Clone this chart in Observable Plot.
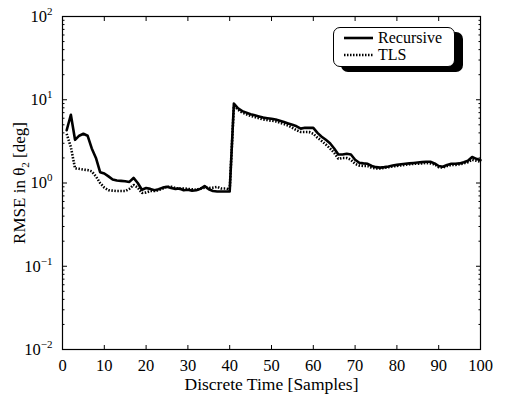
<!DOCTYPE html>
<html><head><meta charset="utf-8">
<script src="https://cdn.jsdelivr.net/npm/d3@7"></script>
<script src="https://cdn.jsdelivr.net/npm/@observablehq/plot@0.6"></script>
<style>
body{margin:0;background:#fff;}
#wrap{position:relative;width:507px;height:395px;font-family:"Liberation Serif","Times New Roman",Times,serif;}
#legend{position:absolute;left:333px;top:27px;width:120px;height:38px;border:1.5px solid #000;border-radius:7px;background:#fff;box-shadow:8px 5px 0 #000;}
#legend svg{position:absolute;left:0;top:0;}
</style></head><body><div id="wrap"></div>
<script>
const seriesNames = ["Recursive", "TLS"];
const samples = d3.range(1, 101);
const recursive = [4.3,6.6,3.3,3.7,3.9,3.7,2.6,2.0,1.35,1.3,
1.2,1.1,1.07,1.06,1.05,1.03,1.15,1.0,0.83,0.87,
0.85,0.82,0.84,0.88,0.9,0.87,0.85,0.86,0.82,0.83,
0.81,0.82,0.85,0.92,0.84,0.8,0.79,0.79,0.79,0.79,
9.0,7.9,7.3,7.0,6.7,6.5,6.3,6.1,6.0,5.9,
5.8,5.6,5.4,5.2,5.0,4.8,4.5,4.6,4.6,4.6,
4.0,3.6,3.3,3.0,2.6,2.2,2.2,2.25,2.2,1.9,
1.75,1.72,1.7,1.6,1.55,1.53,1.55,1.58,1.62,1.65,
1.68,1.7,1.72,1.74,1.76,1.78,1.8,1.8,1.72,1.6,
1.57,1.65,1.7,1.7,1.72,1.78,1.85,2.05,1.95,1.88];
const tls = [3.9,2.7,1.5,1.48,1.45,1.43,1.38,1.2,1.0,0.88,
0.82,0.81,0.8,0.8,0.8,0.85,0.95,0.88,0.76,0.77,
0.8,0.8,0.82,0.86,0.9,0.9,0.87,0.85,0.86,0.85,
0.84,0.83,0.86,0.88,0.87,0.88,0.9,0.86,0.86,0.84,
8.5,7.6,7.0,6.7,6.4,6.2,6.0,5.8,5.7,5.6,
5.5,5.3,5.1,4.9,4.6,4.3,4.1,4.1,4.1,3.9,
3.5,3.2,2.9,2.6,2.3,1.95,2.0,2.0,1.9,1.7,
1.62,1.6,1.6,1.52,1.5,1.5,1.52,1.55,1.58,1.6,
1.63,1.65,1.68,1.7,1.7,1.72,1.74,1.72,1.68,1.55,
1.53,1.6,1.65,1.65,1.68,1.72,1.78,1.9,1.85,1.8];
const xTicks = [0,10,20,30,40,50,60,70,80,90,100];
const yMajor = [0.01,0.1,1,10,100];
const yMinor = [0.01,0.1,1,10].flatMap(d => [2,3,4,5,6,7,8,9].map(k => d*k));

const recData = samples.map((s,i) => ({s, v: recursive[i]}));
const tlsData = samples.map((s,i) => ({s, v: tls[i]}));

const FONT = "'Liberation Serif', 'Times New Roman', Times, serif";
const tk = {tickFormat: () => "", label: null, stroke: "#000", strokeWidth: 1};

const plot = Plot.plot({
  width: 507, height: 395,
  marginLeft: 62, marginRight: 27, marginTop: 16, marginBottom: 46,
  style: {fontFamily: FONT, fontSize: "16px", color: "#000", background: "#fff"},
  x: {domain: [0,100]},
  y: {type: "log", domain: [0.01, 100]},
  marks: [
    Plot.axisX(xTicks, {anchor: "bottom", tickSize: 0, tickPadding: 10, fontSize: 16.5, fontFamily: FONT, label: "Discrete Time [Samples]", labelAnchor: "center", labelArrow: "none", labelOffset: 40}),
    Plot.axisY(yMajor, {anchor: "left", tickSize: 0, tickPadding: 10, fontSize: 16.5, fontFamily: FONT, tickFormat: d => "e" + Math.round(Math.log10(d)), label: "RMSE in θ2 [deg]", labelAnchor: "center", labelArrow: "none", labelOffset: 50}),
    Plot.axisX(xTicks, {anchor: "bottom", tickSize: 4, dy: -4, ...tk}),
    Plot.axisX(xTicks, {anchor: "top", tickSize: 4, dy: 4, ...tk}),
    Plot.axisY(yMajor, {anchor: "left", tickSize: 5, dx: 5, ...tk}),
    Plot.axisY(yMinor, {anchor: "left", tickSize: 2.5, dx: 2.5, ...tk}),
    Plot.axisY(yMajor, {anchor: "right", tickSize: 5, dx: -5, ...tk}),
    Plot.axisY(yMinor, {anchor: "right", tickSize: 2.5, dx: -2.5, ...tk}),
    Plot.frame({stroke: "#000", strokeWidth: 1.2}),
    Plot.line(recData, {x: "s", y: "v", stroke: "#000", strokeWidth: 2.6}),
    Plot.line(tlsData, {x: "s", y: "v", stroke: "#000", strokeWidth: 2.6, strokeDasharray: "1.5,1.5", strokeLinecap: "butt", strokeLinejoin: "miter"})
  ]
});

d3.select(plot).selectAll('text').each(function() {
  const t = d3.select(this);
  const s = t.text();
  if (/^e-?\d+$/.test(s)) {
    const e = s.slice(1).replace("-", "−");
    t.text("");
    t.append("tspan").text("10");
    t.append("tspan").attr("dy", "-7").attr("font-size", "11px").text(e);
  } else if (s === "RMSE in θ2 [deg]") {
    t.text("");
    t.attr("font-size", "17px");
    t.append("tspan").text("RMSE in θ");
    t.append("tspan").attr("dy", "4").attr("font-size", "11px").text("2");
    t.append("tspan").attr("dy", "-4").text(" [deg]");
  } else if (s === "Discrete Time [Samples]") {
    t.attr("font-size", "17.5px");
  }
});
d3.select(plot).selectAll('text').filter(function() { return this.textContent === ""; }).remove();

const wrap = document.getElementById("wrap");
wrap.appendChild(plot);

const legend = document.createElement("div");
legend.id = "legend";
const lsvg = d3.create("svg").attr("width", 120).attr("height", 38);
seriesNames.forEach((name, i) => {
  const y = 10 + i * 17;
  lsvg.append("line").attr("x1", 10).attr("x2", 39).attr("y1", y).attr("y2", y)
    .attr("stroke", "#000").attr("stroke-width", 2.6)
    .attr("stroke-dasharray", i === 1 ? "1.5,1.5" : null);
  lsvg.append("text").attr("x", 44).attr("y", y + 5).attr("font-size", 16)
    .attr("font-family", FONT).text(name);
});
legend.appendChild(lsvg.node());
wrap.appendChild(legend);
</script></body></html>
